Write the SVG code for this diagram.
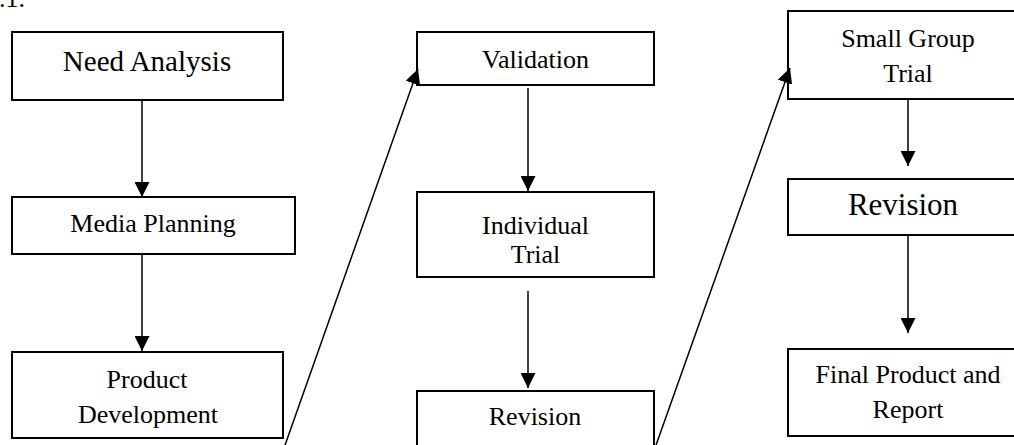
<svg xmlns="http://www.w3.org/2000/svg" width="1014" height="445" viewBox="0 0 1014 445">
<style>
.box{fill:#fff;stroke:#000;stroke-width:2}
.t{font-family:"Liberation Serif","Times New Roman",serif;font-size:26px;fill:#000;text-anchor:middle}
.conn{stroke:#000;stroke-width:1.5;fill:none;marker-end:url(#ah)}
</style>
<defs>
<marker id="ah" markerUnits="userSpaceOnUse" markerWidth="15" markerHeight="15" refX="15" refY="7.5" orient="auto">
<path d="M0,0 L15,7.5 L0,15 z" fill="#000"/>
</marker>
</defs>
<rect width="1014" height="445" fill="#fff"/>
<text x="-1" y="7" class="t" style="text-anchor:start">.1.</text>
<g id="need-analysis"><rect class="box" x="12" y="32" width="271" height="68"/><text class="t" x="147" y="71" style="font-size:29px">Need Analysis</text></g>
<g id="media-planning"><rect class="box" x="12" y="197" width="283" height="57"/><text class="t" x="153" y="232">Media Planning</text></g>
<g id="product-development"><rect class="box" x="12" y="352" width="271" height="86"/><text class="t" x="147" y="388">Product</text><text class="t" x="148" y="423">Development</text></g>
<g id="validation"><rect class="box" x="417" y="32" width="237" height="53"/><text class="t" x="535.5" y="68">Validation</text></g>
<g id="individual-trial"><rect class="box" x="417" y="192" width="237" height="85"/><text class="t" x="535.5" y="234">Individual</text><text class="t" x="535.5" y="263">Trial</text></g>
<g id="revision-1"><rect class="box" x="417" y="391" width="237" height="70"/><text class="t" x="535" y="425">Revision</text></g>
<g id="small-group-trial"><rect class="box" x="788" y="11" width="240" height="88"/><text class="t" x="908" y="47">Small Group</text><text class="t" x="908" y="82">Trial</text></g>
<g id="revision-2"><rect class="box" x="788" y="179" width="240" height="56"/><text class="t" x="903" y="215" style="font-size:31px">Revision</text></g>
<g id="final-product"><rect class="box" x="788" y="349" width="240" height="87"/><text class="t" x="908" y="383">Final Product and</text><text class="t" x="908" y="418">Report</text></g>
<g id="connectors">
<line class="conn" x1="142" y1="100" x2="142" y2="197"/>
<line class="conn" x1="142" y1="254" x2="142" y2="351"/>
<line class="conn" x1="284" y1="448" x2="418" y2="69"/>
<line class="conn" x1="528" y1="88" x2="528" y2="191"/>
<line class="conn" x1="528" y1="291" x2="528" y2="388"/>
<line class="conn" x1="655" y1="448" x2="790" y2="68"/>
<line class="conn" x1="908" y1="99" x2="908" y2="166"/>
<line class="conn" x1="908" y1="236" x2="908" y2="333"/>
</g>
</svg>
